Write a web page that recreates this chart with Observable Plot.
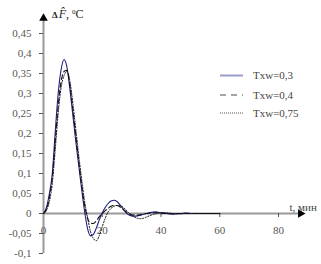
<!DOCTYPE html>
<html><head><meta charset="utf-8">
<script src="https://cdn.jsdelivr.net/npm/d3@7"></script>
<script src="https://cdn.jsdelivr.net/npm/@observablehq/plot@0.6"></script>
<style>body{margin:0;background:#fff} svg{display:block} svg text{font-family:'Liberation Serif','Times New Roman',serif !important}</style>
</head><body><div id="chart"></div>
<script>
const t = [0,1,2,3,4,5,6,7,8,9,10,11,12,13,14,15,16,17,18,19,20,21,22,23,24,25,26,27,28,29,30,31,32,33,34,35,36,37,38,39,40,41,42,43,44,45,46,47,48,49,50,51,52,53,54,55,56,57,58,59,60];
const s03 = [0,0.015,0.05,0.1,0.205,0.3,0.36,0.385,0.365,0.31,0.245,0.18,0.12,0.06,0.005,-0.038,-0.056,-0.052,-0.036,-0.016,0.002,0.015,0.025,0.031,0.033,0.03,0.022,0.012,0.003,-0.003,-0.006,-0.007,-0.006,-0.004,-0.002,0,0.002,0.003,0.004,0.003,0.002,0.001,0,-0.001,-0.001,-0.001,0,0,0.001,0.001,0,0,0,0,0,0,0,0,0,0,0];
const s04 = [0,0.01,0.04,0.09,0.18,0.27,0.33,0.355,0.358,0.32,0.26,0.195,0.13,0.07,0.02,-0.012,-0.024,-0.025,-0.018,-0.008,0,0.007,0.013,0.018,0.02,0.02,0.017,0.011,0.005,0,-0.003,-0.004,-0.004,-0.003,-0.002,0,0.001,0.002,0.002,0.002,0.001,0,0,0,-0.001,-0.001,0,0,0,0,0,0,0,0,0,0,0,0,0,0,0];
const s075 = [0,0.008,0.03,0.075,0.16,0.25,0.315,0.345,0.355,0.33,0.275,0.21,0.145,0.085,0.03,-0.01,-0.045,-0.063,-0.068,-0.055,-0.033,-0.012,0.004,0.013,0.018,0.02,0.02,0.016,0.009,0.002,-0.004,-0.009,-0.012,-0.013,-0.012,-0.009,-0.006,-0.003,-0.001,0.001,0.002,0.002,0.002,0.001,0,0,-0.001,-0.001,0,0,0,0,0,0,0,0,0,0,0,0,0];
const seriesNames = ["Txw=0,3", "Txw=0,4", "Txw=0,75"];
const xTicks = [0, 20, 40, 60, 80];
const yTicks = [-0.1, -0.05, 0, 0.05, 0.1, 0.15, 0.2, 0.25, 0.3, 0.35, 0.4, 0.45];
const xDomain = [0, 90];
const yDomain = [-0.1, 0.5];

const styles = [
  {stroke: "#1e1e88", strokeWidth: 1.1, dash: null, legendStroke: "#9a9acc", legendWidth: 2},
  {stroke: "#111", strokeWidth: 1.1, dash: "5,3", legendStroke: "#888", legendWidth: 1.5},
  {stroke: "#111", strokeWidth: 1, dash: "1.2,1.6", legendStroke: "#555", legendWidth: 1}
];
const allSeries = [s03, s04, s075];
const rows = allSeries.flatMap((s, k) => s.map((v, i) => ({t: t[i], v, k})));

const font = "'Liberation Serif', 'Times New Roman', serif";
const fmt = d => String(d).replace(".", ",");

const plot = Plot.plot({
  width: 321, height: 264,
  marginLeft: 43, marginRight: 13.6, marginTop: 13, marginBottom: 11,
  style: {fontFamily: font, fontSize: "11px", color: "#555", background: "#fff"},
  x: {domain: xDomain, axis: null},
  y: {domain: yDomain, axis: null},
  marks: [
    Plot.ruleX([0], {y1: yDomain[0], y2: yDomain[1] - 0.012, stroke: "#999", strokeWidth: 2}),
    Plot.ruleY([0], {x1: 0, x2: xDomain[1] - 2.5, stroke: "#999", strokeWidth: 2}),
    Plot.dot([0], {x: 0, y: yDomain[1] - 0.012, symbol: "triangle", r: 3.2, fill: "#000", stroke: null}),
    Plot.dot([0], {x: xDomain[1] - 2.5, y: 0, symbol: "triangle", r: 3.2, fill: "#000", stroke: null, rotate: 90}),
    Plot.axisY({ticks: yTicks, tickFormat: fmt, tickSize: 4, tickPadding: 8, stroke: "#555", fill: "#555", label: null, fontSize: 11}),
    Plot.ruleX(xTicks.filter(d => d > 0), {x: d => d, y1: 0, y2: -0.01, stroke: "#555"}),
    Plot.text(xTicks, {x: d => d, y: 0, dy: 17, text: d => String(d), fill: "#555", fontSize: 11}),
    ...allSeries.map((s, k) => Plot.line(rows.filter(r => r.k === k), {
      x: "t", y: "v", stroke: styles[k].stroke, strokeWidth: styles[k].strokeWidth,
      strokeDasharray: styles[k].dash, curve: "monotone-x"
    })),
    Plot.text(["t, мин"], {frameAnchor: "top-left", dx: 246, dy: 190, text: d => d, textAnchor: "start", fill: "#444", fontSize: 11})
  ]
});
document.getElementById("chart").append(plot);

const svg = d3.select(plot);
const title = svg.append("text").attr("x", 52).attr("y", 18).attr("text-anchor", "start")
  .attr("fill", "#222").attr("font-size", 12);
title.append("tspan").text("Δ").attr("font-size", 9).attr("font-weight", "bold");
title.append("tspan").text("F̂").attr("font-style", "italic").attr("dx", 1);
title.append("tspan").text(", ");
title.append("tspan").text("0").attr("font-size", 7).attr("dy", -4);
title.append("tspan").text("C").attr("dy", 4);

const lg = svg.append("g");
const lgY = [75.5, 95, 113];
seriesNames.forEach((name, k) => {
  lg.append("line").attr("x1", 220).attr("x2", 243).attr("y1", lgY[k]).attr("y2", lgY[k])
    .attr("stroke", styles[k].legendStroke).attr("stroke-width", styles[k].legendWidth)
    .attr("stroke-dasharray", k === 1 ? "6,5" : (k === 2 ? "1,1" : null));
  lg.append("text").attr("x", 253).attr("y", lgY[k] + 3.5).attr("text-anchor", "start").text(name)
    .attr("font-size", 11).attr("fill", "#444");
});
</script>
</body></html>
